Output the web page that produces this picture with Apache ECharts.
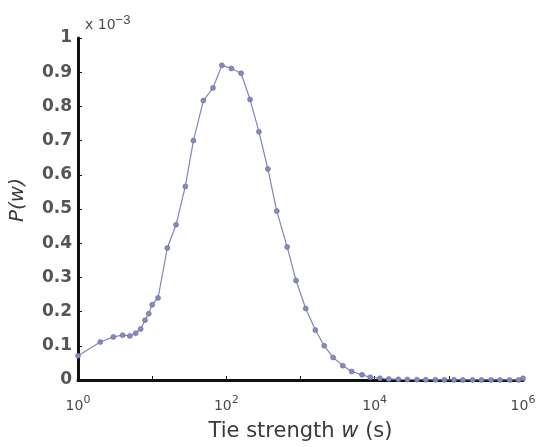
<!DOCTYPE html>
<html>
<head>
<meta charset="utf-8">
<script src="https://cdn.jsdelivr.net/npm/echarts@6/dist/echarts.min.js"></script>
<style>html,body{margin:0;padding:0;background:#fff}#c{width:551px;height:447px}</style>
</head>
<body>
<div id="c"></div>
<script>
// Tie strength w (s)
var wValues = [1,2,3,4,5,6,7,8,9,10,12,16,21,28,36,49,66,87,117,158,209,275,363,479,661,871,1175,1585,2089,2754,3715,4898,6761,8710,11750,15490,20890,27540,37150,48980,66070,87100,117500,154900,208900,275400,371500,489800,660700,871000,1000000];
// P(w) in units of 1e-3
var pValues = [0.071,0.111,0.126,0.131,0.129,0.137,0.149,0.175,0.194,0.22,0.24,0.386,0.454,0.566,0.70,0.817,0.854,0.92,0.911,0.897,0.82,0.726,0.617,0.494,0.389,0.291,0.209,0.146,0.10,0.066,0.042,0.025,0.015,0.008,0.005,0.003,0.002,0.0015,0.001,0.0008,0.0006,0.0005,0.0004,0.0003,0.0003,0.0002,0.0002,0.0001,0.0001,0.0001,0.005];
var yTicks = [0,0.1,0.2,0.3,0.4,0.5,0.6,0.7,0.8,0.9,1];

var chart = echarts.init(document.getElementById('c'), null, {renderer:'canvas'});
var font = 'DejaVu Sans, Liberation Sans, Arial, sans-serif';
var data = wValues.map(function(w,i){return [w,pValues[i]];});
chart.setOption({
  animation:false,
  backgroundColor:'#fff',
  grid:{left:78,right:28,top:38,bottom:59,containLabel:false},
  xAxis:{
    type:'log', logBase:10, min:1, max:1000000, splitNumber:6,
    axisLine:{show:true,onZero:false,lineStyle:{color:'#111',width:3}},
    axisTick:{show:true,inside:true,length:4,lineStyle:{color:'#111',width:1}},
    splitLine:{show:false},
    axisLabel:{
      margin:15, color:'#4a4a4a', fontFamily:font, fontSize:14,
      formatter:function(v){var e=Math.round(Math.log10(v)); return (e%2===0)?('10{sup|'+e+'}'):'';},
      rich:{sup:{fontSize:11,color:'#4a4a4a',fontFamily:font,verticalAlign:'top',padding:[0,0,12,0]}}
    },
    name:'Tie strength {it|w} (s)', nameLocation:'middle', nameGap:41,
    nameTextStyle:{color:'#3a3a3a',fontFamily:font,fontSize:21,
      rich:{it:{fontStyle:'italic',fontSize:21,color:'#3a3a3a',fontFamily:font}}}
  },
  yAxis:{
    type:'value', min:0, max:1, interval:0.1,
    axisLine:{show:true,onZero:false,lineStyle:{color:'#111',width:3}},
    axisTick:{show:true,inside:true,length:4,lineStyle:{color:'#111',width:1}},
    splitLine:{show:false},
    axisLabel:{margin:6,color:'#555',fontFamily:font,fontSize:17,fontWeight:'bold',
      formatter:function(v){return String(+v.toFixed(1));}},
    name:'P(w)', nameLocation:'middle', nameGap:50, nameRotate:90,
    nameTextStyle:{color:'#3a3a3a',fontFamily:font,fontSize:20,fontStyle:'italic',padding:[0,0,0,18]}
  },
  graphic:[{
    type:'text', left:85, top:14,
    style:{text:'x 10{sup|−3}', fill:'#4a4a4a', font:'14px '+font,
      rich:{sup:{fontSize:13,fill:'#4a4a4a',verticalAlign:'top',padding:[0,0,10,0]}}}
  }],
  series:[{
    type:'line', data:data, symbol:'circle', symbolSize:5,
    lineStyle:{color:'#8185bb',width:1.2},
    itemStyle:{color:'#8589bd',borderColor:'#6a6ea6',borderWidth:0.6},
    z:1
  }]
});
</script>
</body>
</html>
